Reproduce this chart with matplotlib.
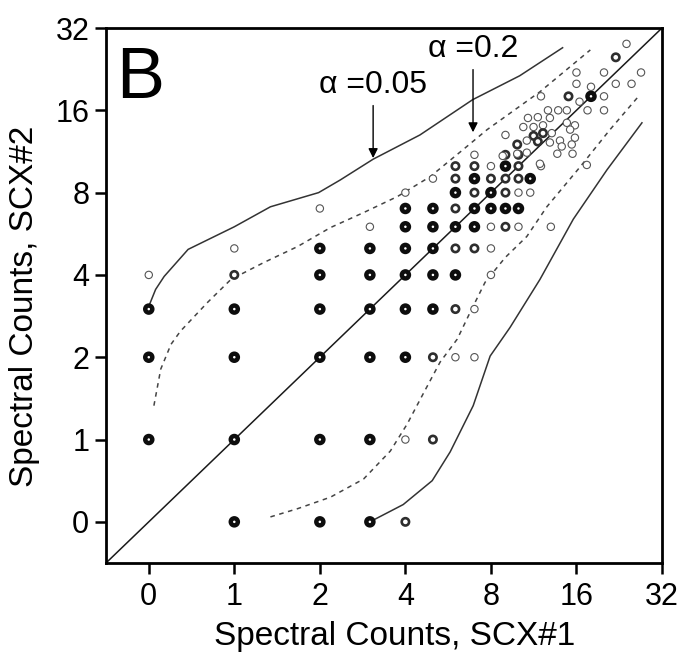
import numpy as np
import matplotlib
matplotlib.use("Agg")
import matplotlib.pyplot as plt

plt.rcParams['font.family'] = ['Liberation Sans', 'DejaVu Sans']

# tick values (spectral counts)
ticks = [0, 1, 2, 4, 8, 16, 32]

# points on the integer grid: x count, y count, overlap weight (1 light .. 3 heavy)
grid_x = [1, 2, 3, 4,
          0, 1, 2, 3, 4, 5,
          0, 1, 2, 3, 4, 5, 6, 7,
          0, 1, 2, 3, 4, 5, 6, 7,
          0, 1, 2, 3, 4, 5, 6, 8,
          1, 2, 3, 4, 5, 6, 7, 8,
          3, 4, 5, 6, 7, 8, 9, 10, 13,
          2, 4, 5, 6, 7, 8, 9, 10,
          4, 6, 7, 8, 9, 10, 11,
          5, 6, 7, 8, 9, 10, 11,
          6, 7, 8, 9, 10, 12,
          7, 9, 10, 9]
grid_y = [0, 0, 0, 0,
          1, 1, 1, 1, 1, 1,
          2, 2, 2, 2, 2, 2, 2, 2,
          3, 3, 3, 3, 3, 3, 3, 3,
          4, 4, 4, 4, 4, 4, 4, 4,
          5, 5, 5, 5, 5, 5, 5, 5,
          6, 6, 6, 6, 6, 6, 6, 6, 6,
          7, 7, 7, 7, 7, 7, 7, 7,
          8, 8, 8, 8, 8, 8, 8,
          9, 9, 9, 9, 9, 9, 9,
          10, 10, 10, 10, 10, 10,
          11, 11, 11, 13]
grid_w = [3, 3, 3, 2,
          3, 3, 3, 3, 1, 2,
          3, 3, 3, 3, 3, 2, 1, 1,
          3, 3, 3, 3, 3, 3, 2, 1,
          1, 2, 3, 3, 3, 3, 3, 1,
          1, 3, 3, 3, 3, 2, 2, 1,
          1, 3, 3, 3, 3, 1, 2, 1, 1,
          1, 3, 3, 2, 3, 3, 3, 3,
          1, 3, 2, 3, 2, 1, 1,
          1, 2, 3, 2, 2, 2, 3,
          2, 2, 1, 3, 2, 1,
          1, 2, 2, 1]

# high-count cluster
clus_x = [24, 22, 27, 20, 22, 25, 16, 16, 18, 15, 20, 20, 12, 16.4, 17.5, 14.8, 13.8,
          12.7, 11.7, 10.8, 12.9, 10.4, 11.3, 12.2, 14.8, 15.8, 15.2, 11.3, 12.2, 13.1,
          10.7, 11.7, 12.9, 14.0, 15.8, 14.2, 15.4, 9.9, 9.9, 10.7, 13.7, 15.5, 8.8,
          11.9, 17.4, 18]
clus_y = [28, 25, 22, 22, 20, 20, 22, 20, 18, 18, 18, 16, 18, 17.2, 16, 16, 16,
          16, 15.1, 15, 15, 13.9, 13.9, 14.1, 14.4, 14.1, 13.6, 12.9, 13.2, 13.2,
          12.4, 12.3, 12.2, 12.4, 12.7, 11.8, 12.0, 12.0, 11.1, 11.2, 11.1, 11.1, 10.9,
          10.2, 10.1, 19.5]
clus_w = [1, 2, 1, 1, 1, 1, 1, 1, 3, 2, 1, 1, 1, 1, 1, 1, 1,
          1, 1, 1, 1, 1, 1, 1, 1, 1, 1, 2, 2, 1,
          1, 2, 1, 1, 1, 1, 1, 2, 1, 1, 1, 1, 1,
          1, 1, 1]

# significance bounds
a05_up_x = [0, 0.08, 0.18, 0.46, 1.0, 1.34, 1.98, 2.36, 3.08, 4.5, 6.9, 10.1, 14.3]
a05_up_y = [3.07, 3.54, 3.95, 4.96, 6.0, 7.1, 8.0, 8.9, 10.6, 13.0, 17.5, 21.4, 27.1]
a05_lo_x = [3.0, 3.93, 4.97, 5.75, 6.93, 7.95, 9.34, 11.9, 15.6, 20.5, 27.2]
a05_lo_y = [0.0, 0.21, 0.50, 0.85, 1.33, 2.02, 2.57, 3.85, 6.4, 9.7, 14.4]
a02_up_x = [0.06, 0.14, 0.26, 0.37, 0.69, 0.96, 1.27, 1.67, 2.18, 2.85, 3.75, 4.89, 6.39,
            7.76, 11.9, 17.9]
a02_up_y = [1.33, 1.81, 2.23, 2.49, 3.18, 3.85, 4.44, 5.08, 5.96, 6.76, 7.74, 9.15, 11.5,
            13.6, 18.7, 26.6]
a02_lo_x = [1.34, 1.67, 2.18, 2.85, 3.54, 4.06, 4.62, 5.30, 6.09, 6.76, 7.63, 8.98, 10.7,
            12.6, 16.5, 21.0, 26.7]
a02_lo_y = [0.06, 0.16, 0.30, 0.52, 0.86, 1.14, 1.47, 1.92, 2.33, 2.92, 3.76, 4.63, 5.53,
            7.11, 9.95, 13.6, 18.2]


def fwd(v):
    v = np.asarray(v, dtype=float)
    return np.where(v < 1, v - 1, np.log2(np.maximum(v, 1)))


def inv(u):
    u = np.asarray(u, dtype=float)
    return np.where(u < 0, u + 1, 2.0 ** u)


fig = plt.figure(figsize=(6.81, 6.6), dpi=100)
ax = fig.add_axes([106 / 681, 97 / 660, 556 / 681, 535 / 660])
ax.set_xscale('function', functions=(fwd, inv))
ax.set_yscale('function', functions=(fwd, inv))
ax.set_xlim(-0.5, 32)
ax.set_ylim(-0.5, 32)

ax.plot([-0.5, 32], [-0.5, 32], color='#1a1a1a', lw=1.1, zorder=1)
for xs, ys in [(a05_up_x, a05_up_y), (a05_lo_x, a05_lo_y)]:
    ax.plot(xs, ys, color='#333333', lw=1.1, zorder=1)
for xs, ys in [(a02_up_x, a02_up_y), (a02_lo_x, a02_lo_y)]:
    ax.plot(xs, ys, color='#444444', lw=1.1, ls=(0, (3, 3)), zorder=1)

lw_map = {1: 0.8, 2: 1.9, 3: 3.2}
col_map = {1: '#555555', 2: '#2e2e2e', 3: '#0d0d0d'}
px = grid_x + clus_x
py = grid_y + clus_y
pw = grid_w + clus_w
ax.scatter(px, py, s=[26 if w == 3 else 28 for w in pw], facecolors='white',
           edgecolors=[col_map[w] for w in pw],
           linewidths=[lw_map[w] for w in pw], zorder=3)

arrow = dict(arrowstyle='-|>', color='black', lw=1.0, mutation_scale=14,
             shrinkA=2, shrinkB=0)
ax.annotate('\u03b1 =0.05', xy=(3.08, 10.7), xytext=(3.08, 19.8),
            ha='center', va='center', fontsize=23, arrowprops=arrow)
ax.annotate('\u03b1 =0.2', xy=(6.92, 13.3), xytext=(6.92, 26.8),
            ha='center', va='center', fontsize=23, arrowprops=arrow)

ax.text(0.018, 0.869, 'B', transform=ax.transAxes, fontsize=52,
        ha='left', va='baseline')

ax.set_xticks(ticks)
ax.set_yticks(ticks)
ax.set_xticklabels([str(t) for t in ticks])
ax.set_yticklabels([str(t) for t in ticks])
ax.tick_params(direction='out', length=8, width=1.8, labelsize=22,
               top=False, right=False)
ax.tick_params(axis='x', pad=6)
ax.tick_params(axis='y', pad=4)
for sp in ax.spines.values():
    sp.set_linewidth(2.0)

ax.set_xlabel('Spectral Counts, SCX#1', fontsize=24)
ax.set_ylabel('Spectral Counts, SCX#2', fontsize=24)
ax.xaxis.set_label_coords(0.52, -0.108)
ax.yaxis.set_label_coords(-0.118, 0.48)

fig.savefig('out.png', dpi=100)
